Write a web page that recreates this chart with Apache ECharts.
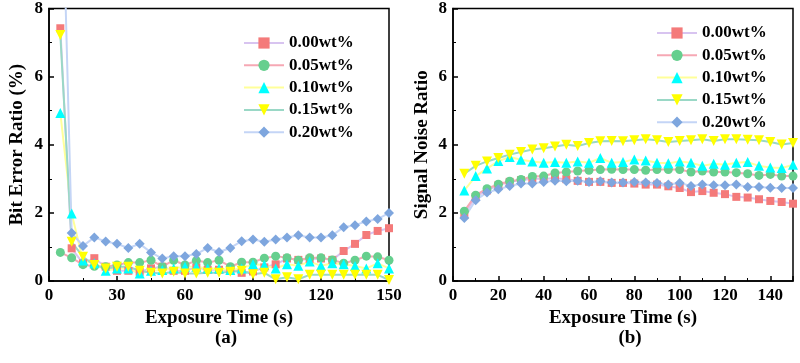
<!DOCTYPE html>
<html><head><meta charset="utf-8">
<script src="https://cdn.jsdelivr.net/npm/echarts@6/dist/echarts.min.js"></script>
<style>html,body{margin:0;padding:0;background:#fff}#c{width:800px;height:363px}</style>
</head><body><div id="c"></div>
<script>
const exposure = [5,10,15,20,25,30,35,40,45,50,55,60,65,70,75,80,85,90,95,100,105,110,115,120,125,130,135,140,145,150];
const names = ['0.00wt%','0.05wt%','0.10wt%','0.15wt%','0.20wt%'];
// (a) Bit Error Ratio (%)
const ber000 = [7.42,0.96,0.52,0.67,0.42,0.30,0.30,0.27,0.37,0.42,0.30,0.30,0.40,0.33,0.33,0.32,0.24,0.28,0.40,0.49,0.66,0.62,0.65,0.66,0.62,0.88,1.09,1.35,1.47,1.55];
const ber005 = [0.84,0.68,0.48,0.43,0.42,0.47,0.54,0.54,0.61,0.42,0.61,0.47,0.60,0.54,0.61,0.42,0.55,0.55,0.67,0.73,0.68,0.61,0.68,0.68,0.62,0.52,0.61,0.73,0.71,0.61];
const ber010 = [4.93,1.98,0.60,0.52,0.30,0.37,0.37,0.22,0.30,0.32,0.37,0.42,0.42,0.37,0.37,0.32,0.37,0.49,0.47,0.37,0.49,0.45,0.57,0.45,0.52,0.49,0.44,0.37,0.52,0.37];
const ber015 = [7.22,1.15,0.71,0.47,0.37,0.42,0.42,0.30,0.24,0.22,0.27,0.22,0.22,0.24,0.24,0.27,0.30,0.20,0.24,0.05,0.11,0.05,0.18,0.18,0.18,0.18,0.18,0.18,0.18,0.03];
const ber020 = [14.0,1.41,1.03,1.28,1.16,1.09,0.97,1.09,0.84,0.66,0.73,0.73,0.79,0.97,0.85,0.97,1.17,1.22,1.15,1.22,1.28,1.34,1.28,1.28,1.34,1.58,1.64,1.75,1.82,2.00];
// (b) Signal Noise Ratio
const snr000 = [1.95,2.47,2.66,2.81,2.91,2.96,3.00,3.00,3.02,2.99,2.94,2.91,2.91,2.88,2.88,2.86,2.83,2.83,2.78,2.73,2.61,2.64,2.59,2.55,2.47,2.45,2.40,2.35,2.32,2.27];
const snr005 = [2.05,2.52,2.71,2.84,2.93,2.98,3.07,3.08,3.17,3.20,3.23,3.25,3.27,3.28,3.27,3.27,3.25,3.27,3.27,3.27,3.20,3.23,3.20,3.20,3.18,3.15,3.10,3.13,3.08,3.08];
const snr010 = [2.66,3.08,3.30,3.52,3.64,3.56,3.51,3.47,3.49,3.47,3.51,3.47,3.61,3.47,3.49,3.57,3.54,3.47,3.46,3.51,3.47,3.38,3.44,3.41,3.47,3.49,3.38,3.33,3.32,3.41];
const snr015 = [3.15,3.38,3.51,3.61,3.71,3.79,3.86,3.90,3.95,4.00,3.96,4.05,4.10,4.11,4.10,4.13,4.16,4.13,4.08,4.11,4.13,4.16,4.11,4.16,4.16,4.15,4.13,4.08,4.01,4.05];
const snr020 = [1.85,2.37,2.60,2.69,2.79,2.86,2.86,2.91,2.94,2.93,2.94,2.91,2.93,2.89,2.89,2.91,2.89,2.88,2.83,2.88,2.79,2.83,2.81,2.81,2.83,2.76,2.76,2.74,2.73,2.73];
const yTickLabels = ['0','2','4','6','8'];

const FONT = '"Liberation Serif","Times New Roman",serif';
const lineColors = ['#D8C4F0','#F6A8B4','#FFFF99','#9AD8C6','#C4D5F6'];
const markColors = ['#F47A7A','#66CF8E','#00FFFF','#FFFF00','#7EA6DE'];
const symbols = ['rect','circle','triangle','triangle','diamond'];
const sizes = [8,9,10,10,10];
const rotates = [0,0,0,180,0];

function mk(arr, idx, ax){
  return {
    name: names[idx], type:'line', xAxisIndex:ax, yAxisIndex:ax,
    data: exposure.map((x,i)=>[x,arr[i]]),
    symbol: symbols[idx], symbolSize: sizes[idx], symbolRotate: rotates[idx],
    showSymbol:true, clip:true, animation:false,
    lineStyle:{color:lineColors[idx], width:2},
    itemStyle:{color:markColors[idx]}
  };
}
const txt = {fontFamily:FONT, fontWeight:'bold', color:'#000'};
function xAx(grid, interval, showMax){
  return {type:'value', gridIndex:grid, min:0, max:150, interval:interval,
    name:'Exposure Time (s)', nameLocation:'middle', nameGap:16,
    nameTextStyle:Object.assign({fontSize:19},txt),
    axisLine:{show:true,lineStyle:{color:'#000',width:1.5}},
    axisTick:{show:true,inside:true,length:5,lineStyle:{color:'#000',width:1.5}},
    minorTick:{show:true,splitNumber:2,length:3,lineStyle:{color:'#000',width:1}},
    axisLabel:Object.assign({fontSize:17,margin:6,showMaxLabel:showMax},txt),
    splitLine:{show:false}};
}
function yAx(grid, name, gap){
  return {type:'value', gridIndex:grid, min:0, max:8, interval:2,
    name:name, nameLocation:'middle', nameGap:gap,
    nameTextStyle:Object.assign({fontSize:19},txt),
    axisLine:{show:true,lineStyle:{color:'#000',width:1.5}},
    axisTick:{show:true,inside:true,length:5,lineStyle:{color:'#000',width:1.5}},
    minorTick:{show:true,splitNumber:2,length:3,lineStyle:{color:'#000',width:1}},
    axisLabel:Object.assign({fontSize:17,margin:6,
      formatter:v=>yTickLabels.includes(String(v))?String(v):''},txt),
    splitLine:{show:false}};
}
function legend(left, top){
  return {orient:'vertical', left:left, top:top, padding:0, itemWidth:40, itemHeight:14, itemGap:5.3,
    selectedMode:false, data:names,
    textStyle:Object.assign({fontSize:17},txt)};
}
const chart = echarts.init(document.getElementById('c'), null, {renderer:'canvas'});
const leftSeries = [mk(ber000,0,0),mk(ber005,1,0),mk(ber010,2,0),mk(ber015,3,0),mk(ber020,4,0)];
const rightSeries = [mk(snr000,0,1),mk(snr005,1,1),mk(snr010,2,1),mk(snr015,3,1),mk(snr020,4,1)];
chart.setOption({
  animation:false,
  backgroundColor:'#fff',
  grid:[
    {left:49, right:411, top:8, bottom:82, show:true, borderColor:'#000', borderWidth:1.5, backgroundColor:'transparent'},
    {left:453, right:7, top:8, bottom:82, show:true, borderColor:'#000', borderWidth:1.5, backgroundColor:'transparent'}
  ],
  xAxis:[xAx(0,30,true), xAx(1,20,false)],
  yAxis:[yAx(0,'Bit Error Ratio (%)',22), yAx(1,'Signal Noise Ratio',21)],
  legend:[legend(243,34.5), legend(656,24.5)],
  graphic:[
    {type:'text', x:226, y:338, style:{text:'(a)', fontFamily:FONT, fontWeight:'bold', fontSize:19, fill:'#000', align:'center', verticalAlign:'middle'}},
    {type:'text', x:630, y:338, style:{text:'(b)', fontFamily:FONT, fontWeight:'bold', fontSize:19, fill:'#000', align:'center', verticalAlign:'middle'}}
  ],
  series: leftSeries.concat(rightSeries)
});
</script></body></html>
